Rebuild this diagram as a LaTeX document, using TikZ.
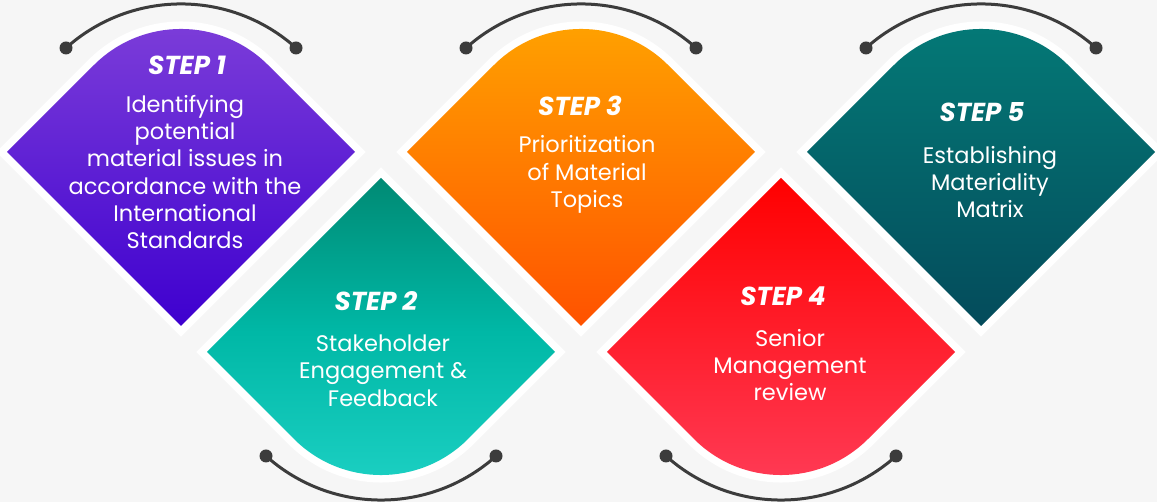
\documentclass[tikz,border=0pt]{standalone}
\usepackage{fontspec}
\setmainfont{Poppins}
\definecolor{bg}{HTML}{F6F6F6}
\definecolor{arcgray}{HTML}{3C3C3C}
\definecolor{pA}{HTML}{7D3ED9}\definecolor{pB}{HTML}{3E00CF}
\definecolor{tA}{HTML}{008A74}\definecolor{tM}{HTML}{00B8A6}\definecolor{tB}{HTML}{1CD0C3}
\definecolor{oA}{HTML}{FFA300}\definecolor{oB}{HTML}{FF5200}
\definecolor{rA}{HTML}{FF0000}\definecolor{rB}{HTML}{FF3B56}
\definecolor{gA}{HTML}{047A77}\definecolor{gB}{HTML}{044B5B}
\tikzset{
  rim/.style={draw=white, line width=15pt, line join=miter},
  hook/.style={draw=arcgray, line width=3pt},
  knob/.style={fill=arcgray},
  steptitle/.style={text=white, font=\fontsize{26}{30}\selectfont\bfseries\itshape},
  stepbody/.style={text=white, align=center, font=\fontsize{22.5}{27.3}\selectfont},
}
% shape with rounded top, centre (#1,350)
\newcommand{\capup}[4]{%
  \path[rim] (#1-174,350) -- (#1-87,437) arc[start angle=135,end angle=45,radius=123.04]
    -- (#1+174,350) -- (#1,176) -- cycle;
  \shade[top color=#2, bottom color=#3, #4] (#1-174,350) -- (#1-87,437)
    arc[start angle=135,end angle=45,radius=123.04] -- (#1+174,350) -- (#1,176) -- cycle;
}
% shape with rounded bottom, centre (#1,150)
\newcommand{\capdown}[4]{%
  \path[rim] (#1-174,150) -- (#1,324) -- (#1+174,150) -- (#1+87,63)
    arc[start angle=-45,end angle=-135,radius=123.04] -- cycle;
  \shade[top color=#2, bottom color=#3, #4] (#1-174,150) -- (#1,324) -- (#1+174,150)
    -- (#1+87,63) arc[start angle=-45,end angle=-135,radius=123.04] -- cycle;
}
% arcs with round knobs
\newcommand{\hookup}[2]{%
  \coordinate (#2a) at (#1-115,454);
  \coordinate (#2b) at (#1+115,454);
  \draw[hook] (#2a) arc[start angle=131.9,end angle=48.1,radius=172.3];
  \fill[knob] (#2a) circle[radius=6.5];
  \fill[knob] (#2b) circle[radius=6.5];
}
\newcommand{\hookdown}[2]{%
  \coordinate (#2a) at (#1-115,46);
  \coordinate (#2b) at (#1+115,46);
  \draw[hook] (#2a) arc[start angle=-131.9,end angle=-48.1,radius=172.3];
  \fill[knob] (#2a) circle[radius=6.5];
  \fill[knob] (#2b) circle[radius=6.5];
}
\begin{document}
\begin{tikzpicture}[x=1pt,y=1pt]
\fill[bg] (0,0) rectangle (1157,502);
\useasboundingbox (0,0) rectangle (1157,502);

\capup{181}{pA}{pB}{}
\capdown{381}{tA}{tB}{middle color=tM}
\capup{581}{oA}{oB}{}
\capdown{781}{rA}{rB}{}
\capup{981}{gA}{gB}{}

\hookup{181}{h1}
\hookdown{381}{h2}
\hookup{581}{h3}
\hookdown{781}{h4}
\hookup{981}{h5}

\node[steptitle] (t1) at (187,436.5) {STEP 1};
\node[stepbody] (b1) at (185,330) {Identifying\\potential\\material issues in\\accordance with the\\International\\Standards};

\node[steptitle] (t2) at (376,201) {STEP 2};
\node[stepbody] (b2) at (383,131.5) {Stakeholder\\Engagement \&\\Feedback};

\node[steptitle] (t3) at (580,396) {STEP 3};
\node[stepbody] (b3) at (587,327.5) {Prioritization\\of Material\\Topics};

\node[steptitle] (t4) at (783,206) {STEP 4};
\node[stepbody] (b4) at (790,137) {Senior\\Management\\review};

\node[steptitle] (t5) at (982,389.5) {STEP 5};
\node[stepbody] (b5) at (990,320) {Establishing\\Materiality\\Matrix};
\end{tikzpicture}
\end{document}
